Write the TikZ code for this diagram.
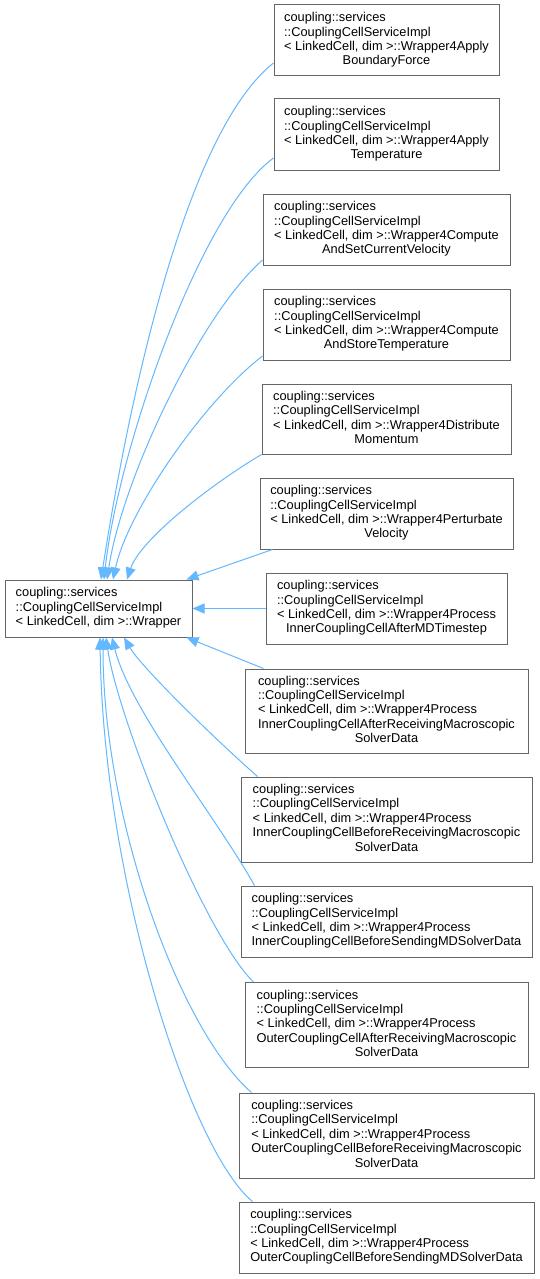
\documentclass[tikz,border=0pt]{standalone}
\usepackage{fontspec}
\setmainfont{Liberation Sans}
\usetikzlibrary{arrows.meta}
\definecolor{boxgray}{HTML}{666666}
\definecolor{edgeblue}{HTML}{63B8FF}
\newcommand{\ctr}[1]{\multicolumn{1}{@{}c@{}}{#1}}
\newcommand{\lbl}[1]{\begin{tabular}{@{}l@{}}coupling::services\\::CouplingCellServiceImpl\\#1\end{tabular}}
\begin{document}
\begin{tikzpicture}[x=1pt,y=-1pt,
  cls/.style={draw=boxgray, line width=1pt, fill=white, rectangle, inner sep=0pt,
    font=\fontsize{12.8}{14.4}\selectfont},
  inh/.style={draw=edgeblue, line width=1pt, -{Triangle[length=12pt,width=10pt,fill=edgeblue]}}]
\useasboundingbox (0,0) rectangle (539,1279);
\fill[white] (0,0) rectangle (539,1279);

\node[cls, minimum width=187pt, minimum height=57pt] (base) at (98.5,608.5)
  {\lbl{< LinkedCell, dim >::Wrapper}};

\node[cls, minimum width=225pt, minimum height=71pt] (n1) at (386.5,40.5)
  {\lbl{< LinkedCell, dim >::Wrapper4Apply\\\ctr{BoundaryForce}}};
\node[cls, minimum width=225pt, minimum height=71pt] (n2) at (386.5,134.5)
  {\lbl{< LinkedCell, dim >::Wrapper4Apply\\\ctr{Temperature}}};
\node[cls, minimum width=247pt, minimum height=71pt] (n3) at (386.5,229.5)
  {\lbl{< LinkedCell, dim >::Wrapper4Compute\\\ctr{AndSetCurrentVelocity}}};
\node[cls, minimum width=247pt, minimum height=71pt] (n4) at (386.5,324.5)
  {\lbl{< LinkedCell, dim >::Wrapper4Compute\\\ctr{AndStoreTemperature}}};
\node[cls, minimum width=249pt, minimum height=70pt] (n5) at (386.5,419)
  {\lbl{< LinkedCell, dim >::Wrapper4Distribute\\\ctr{Momentum}}};
\node[cls, minimum width=253pt, minimum height=71pt] (n6) at (386.5,513.5)
  {\lbl{< LinkedCell, dim >::Wrapper4Perturbate\\\ctr{Velocity}}};
\node[cls, minimum width=241pt, minimum height=71pt] (n7) at (386.5,608.5)
  {\lbl{< LinkedCell, dim >::Wrapper4Process\\\ctr{InnerCouplingCellAfterMDTimestep}}};
\node[cls, minimum width=283pt, minimum height=84pt] (n8) at (386.5,711)
  {\lbl{< LinkedCell, dim >::Wrapper4Process\\InnerCouplingCellAfterReceivingMacroscopic\\\ctr{SolverData}}};
\node[cls, minimum width=291pt, minimum height=85pt] (n9) at (386.5,819.5)
  {\lbl{< LinkedCell, dim >::Wrapper4Process\\InnerCouplingCellBeforeReceivingMacroscopic\\\ctr{SolverData}}};
\node[cls, minimum width=291pt, minimum height=71pt] (n10) at (386.5,921.5)
  {\lbl{< LinkedCell, dim >::Wrapper4Process\\InnerCouplingCellBeforeSendingMDSolverData}};
\node[cls, minimum width=283pt, minimum height=85pt] (n11) at (386.5,1025)
  {\lbl{< LinkedCell, dim >::Wrapper4Process\\OuterCouplingCellAfterReceivingMacroscopic\\\ctr{SolverData}}};
\node[cls, minimum width=295pt, minimum height=85pt] (n12) at (386.5,1135.5)
  {\lbl{< LinkedCell, dim >::Wrapper4Process\\OuterCouplingCellBeforeReceivingMacroscopic\\\ctr{SolverData}}};
\node[cls, minimum width=295pt, minimum height=71pt] (n13) at (386.5,1237.5)
  {\lbl{< LinkedCell, dim >::Wrapper4Process\\OuterCouplingCellBeforeSendingMDSolverData}};

% edges above
\draw[inh] ([yshift=-22.5pt]n1.west) .. controls (180,137) and (124,431) .. ([xshift=2.5pt]base.north);
\draw[inh] ([yshift=-23.5pt]n2.west) .. controls (200,212) and (118,450) .. ([xshift=5.5pt]base.north);
\draw[inh] ([yshift=-30.5pt]n3.west) .. controls (200,315) and (122,480) .. ([xshift=8.5pt]base.north);
\draw[inh] ([yshift=-31.5pt]n4.west) .. controls (205,400) and (128,510) .. ([xshift=14.5pt]base.north);
\draw[inh] (n5.south west) .. controls (210,485) and (140,540) .. ([xshift=28.5pt]base.north);
\draw[inh] ([xshift=13pt]n6.south west) -- ([xshift=-6pt]base.north east);
\draw[inh] (n7.west) -- (base.east);
% edges below
\draw[inh] ([xshift=19pt]n8.north west) -- ([xshift=-6pt]base.south east);
\draw[inh] ([xshift=17pt]n9.north west) .. controls (205,730) and (140,665) .. ([xshift=25.5pt]base.south);
\draw[inh] ([xshift=14pt]n10.north west) .. controls (215,815) and (130,710) .. ([xshift=13.5pt]base.south);
\draw[inh] ([xshift=9pt]n11.north west) .. controls (205,935) and (118,720) .. ([xshift=7.5pt]base.south);
\draw[inh] ([xshift=13pt]n12.north west) .. controls (180,1030) and (103,820) .. ([xshift=4.5pt]base.south);
\draw[inh] ([xshift=14pt]n13.north west) .. controls (190,1150) and (103,880) .. ([xshift=1.5pt]base.south);
\end{tikzpicture}
\end{document}
